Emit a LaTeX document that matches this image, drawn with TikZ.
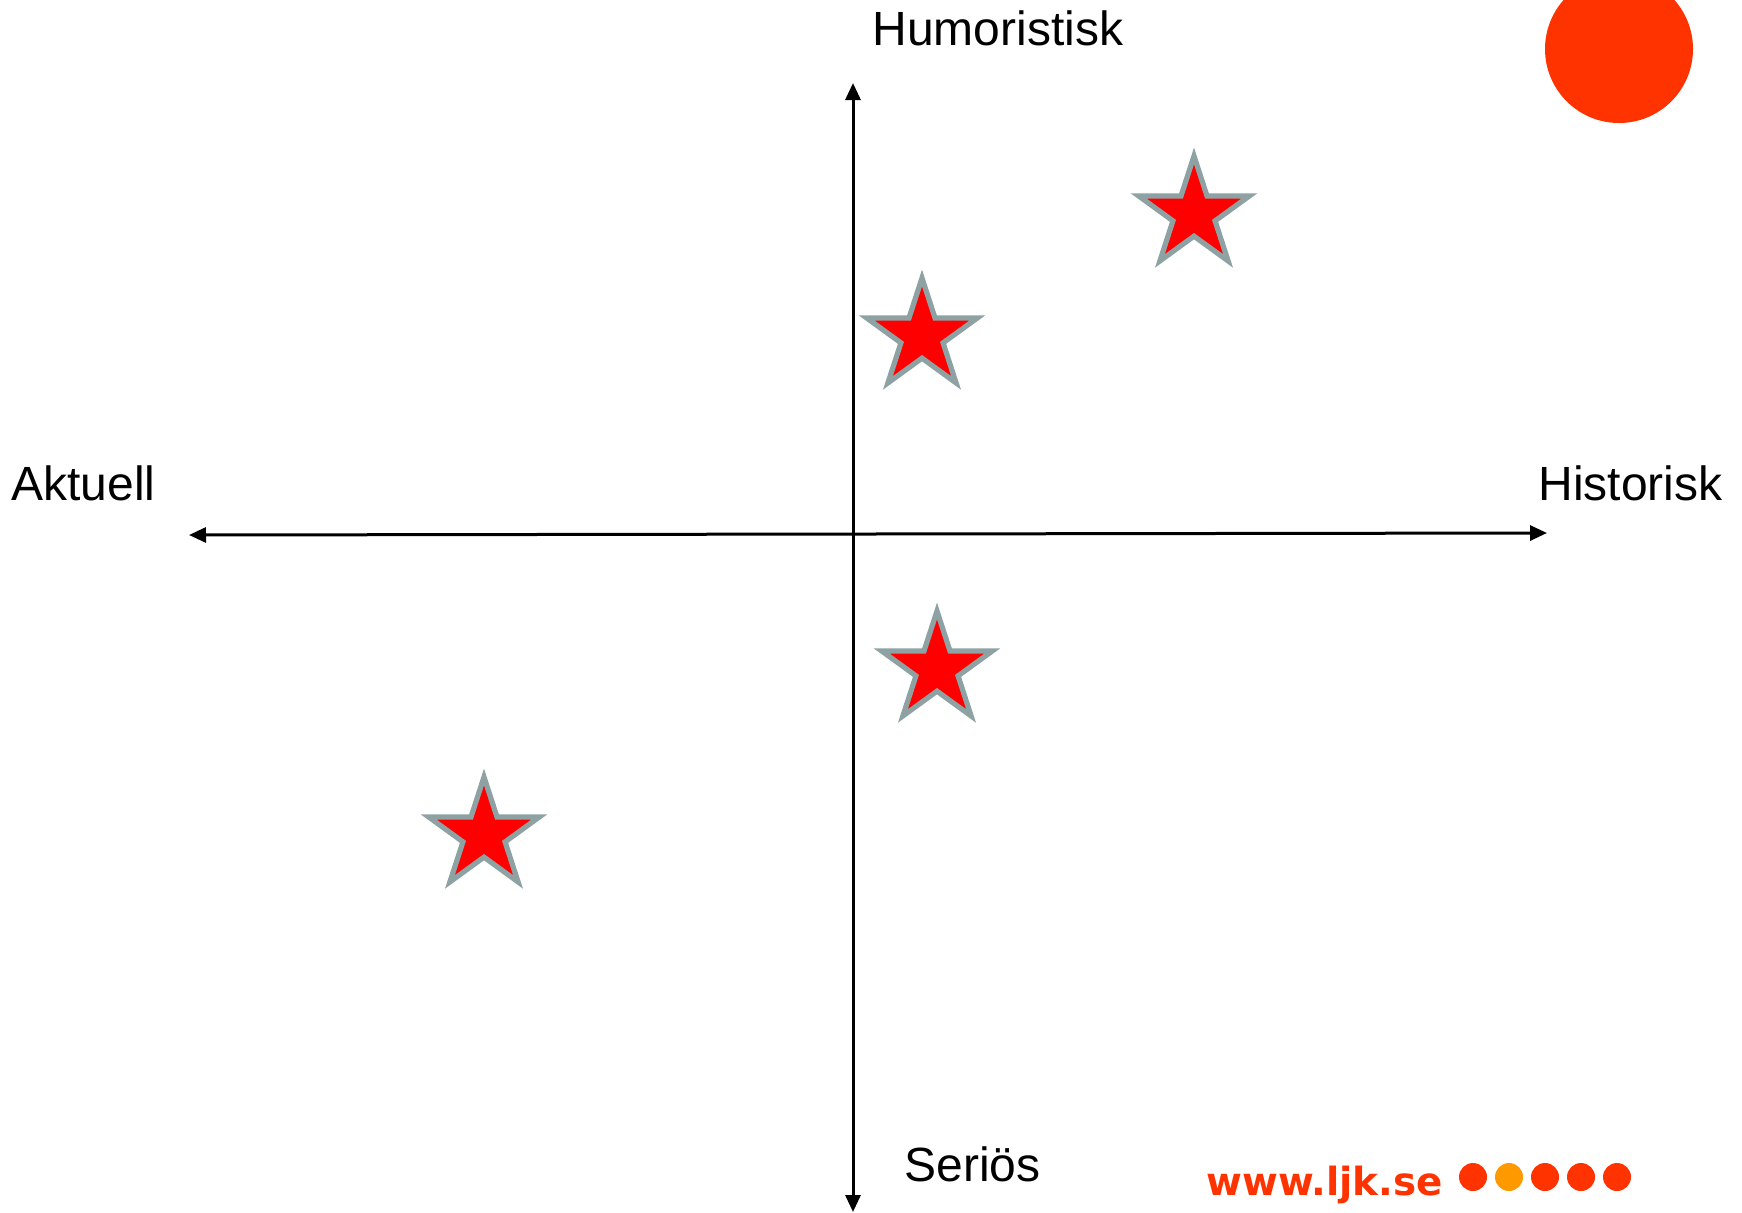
\documentclass[tikz,border=0pt]{standalone}
\usepackage{fontspec}
\setmainfont{Liberation Sans}
\newfontfamily\logofont{DejaVu Sans}
\usetikzlibrary{arrows.meta,shapes.geometric}
\definecolor{ljkred}{HTML}{FF3300}
\definecolor{ljkorange}{HTML}{FF9900}
\definecolor{stargray}{HTML}{8EA2A4}
\begin{document}
\begin{tikzpicture}[x=0.5pt,y=-0.5pt,
  axis/.style={line width=1.5pt,{Triangle[length=8.5pt,width=7.5pt]}-{Triangle[length=8.5pt,width=7.5pt]}},
  lbl/.style={inner sep=0pt,anchor=base west,font=\fontsize{24}{28}\selectfont},
  starmark/.style={shape=star,star points=5,star point ratio=2.618,inner sep=0pt,
    minimum size=58pt,fill=red,draw=stargray,line width=2.6pt,line join=miter},
  dot/.style={circle,fill=ljkred,inner sep=0pt,minimum size=14pt}]
\clip (0,0) rectangle (1742,1212);
\fill[white] (0,0) rectangle (1742,1212);
% big circle
\fill[ljkred] (1619,49) circle[radius=37pt];
% axes
\coordinate (top) at (853,83);
\coordinate (bot) at (853,1212);
\coordinate (lft) at (189,535);
\coordinate (rgt) at (1547,533);
\draw[axis] (lft) -- (rgt);
\draw[axis] (bot) -- (top);
% labels
\node[lbl] (hum) at (872,45) {Humoristisk};
\node[lbl] (akt) at (11,500) {Aktuell};
\node[lbl] (his) at (1538,500) {Historisk};
\node[lbl] (ser) at (904,1181) {Seriös};
% stars
\node[starmark] (s1) at (1194,214) {};
\node[starmark] (s2) at (922,336) {};
\node[starmark] (s3) at (937,669) {};
\node[starmark] (s4) at (484,835) {};
% logo
\node[inner sep=0pt,anchor=base west,text=ljkred,font=\logofont\bfseries\fontsize{19.4}{22}\selectfont] (www) at (1206,1195) {www.ljk.se};
\node[dot] (d1) at (1473,1177) {};
\node[dot,fill=ljkorange] (d2) at (1509,1177) {};
\node[dot] (d3) at (1545,1177) {};
\node[dot] (d4) at (1581,1177) {};
\node[dot] (d5) at (1617,1177) {};
\end{tikzpicture}
\end{document}
